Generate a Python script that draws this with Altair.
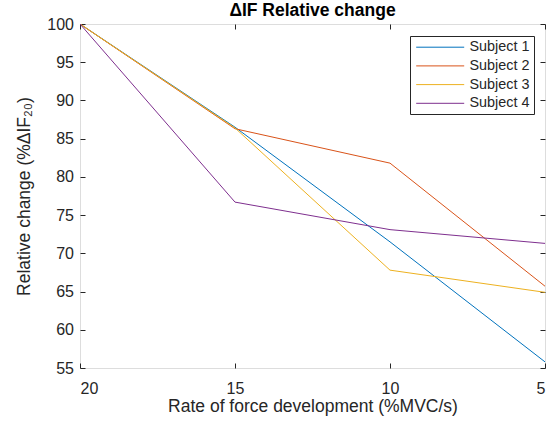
import altair as alt
import pandas as pd

rate = [20, 15, 10, 5]
subjects = ["Subject 1", "Subject 2", "Subject 3", "Subject 4"]
s1 = [100, 86.5, 71.5, 55.8]
s2 = [100, 86.3, 81.8, 65.7]
s3 = [100, 86.4, 67.8, 64.9]
s4 = [100, 76.7, 73.1, 71.3]
colors = ["#0072BD", "#D95319", "#EDB120", "#7E2F8E"]
x_ticks = [20, 15, 10, 5]
y_ticks = [55, 60, 65, 70, 75, 80, 85, 90, 95, 100]

rows = []
for name, vals in zip(subjects, [s1, s2, s3, s4]):
    for r, v in zip(rate, vals):
        rows.append({"rate": r, "value": v, "subject": name})
df = pd.DataFrame(rows)

FONT = "Liberation Sans"
AX = "#262626"

xscale = alt.Scale(domain=[5, 20], reverse=True, nice=False, zero=False)
yscale = alt.Scale(domain=[55, 100], nice=False, zero=False)

lines = alt.Chart(df).mark_line(strokeWidth=1, clip=True).encode(
    x=alt.X("rate:Q", scale=xscale,
            axis=alt.Axis(values=x_ticks, orient="bottom", offset=-5, tickSize=5,
                          domain=False, labelPadding=12.5, labelFontSize=16,
                          labelColor=AX, tickColor=AX, grid=False,
                          title="Rate of force development (%MVC/s)",
                          titleFontSize=17.5, titleFontWeight="normal", titleColor=AX,
                          titlePadding=1, labelFont=FONT, titleFont=FONT)),
    y=alt.Y("value:Q", scale=yscale,
            axis=alt.Axis(values=y_ticks, orient="left", offset=-5, tickSize=5,
                          domain=False, labelPadding=6.5, labelFontSize=16,
                          labelColor=AX, tickColor=AX, grid=False,
                          title="Relative change (%ΔIF₂₀)",
                          titleFontSize=17.5, titleFontWeight="normal", titleColor=AX,
                          titlePadding=13, labelFont=FONT, titleFont=FONT)),
    color=alt.Color("subject:N",
                    scale=alt.Scale(domain=subjects, range=colors),
                    legend=alt.Legend(title=None, orient="none", legendX=330, legendY=12,
                                      symbolType="M-1,0L8.6,0", symbolSize=100,
                                      symbolStrokeWidth=1, labelFontSize=14.4,
                                      labelFont=FONT, labelColor=AX,
                                      fillColor="white", strokeColor=AX,
                                      padding=4, rowPadding=3.7, labelOffset=41)),
    order=alt.Order("rate:Q", sort="descending"),
)

frame = alt.Chart(df).mark_point(opacity=0).encode(
    x=alt.X("rate:Q", scale=xscale,
            axis=alt.Axis(values=x_ticks, orient="top", offset=-5, tickSize=5,
                          domain=False, labels=False, tickColor=AX, grid=False, title=None)),
    y=alt.Y("value:Q", scale=yscale,
            axis=alt.Axis(values=y_ticks, orient="right", offset=-5, tickSize=5,
                          domain=False, labels=False, tickColor=AX, grid=False, title=None)),
)

chart = alt.layer(lines, frame).resolve_axis(x="independent", y="independent").properties(
    width=465,
    height=344,
    autosize=alt.AutoSizeParams(type="none"),
    padding={"left": 80, "top": 24, "right": 7, "bottom": 55},
    title=alt.TitleParams("ΔIF Relative change", fontSize=17.5, fontWeight="bold",
                          font=FONT, color="black", anchor="middle", offset=-3),
).configure_view(stroke=AX, strokeWidth=1).configure(background="white")

chart.save("out.html", embed_options={"renderer": "svg", "actions": False})
